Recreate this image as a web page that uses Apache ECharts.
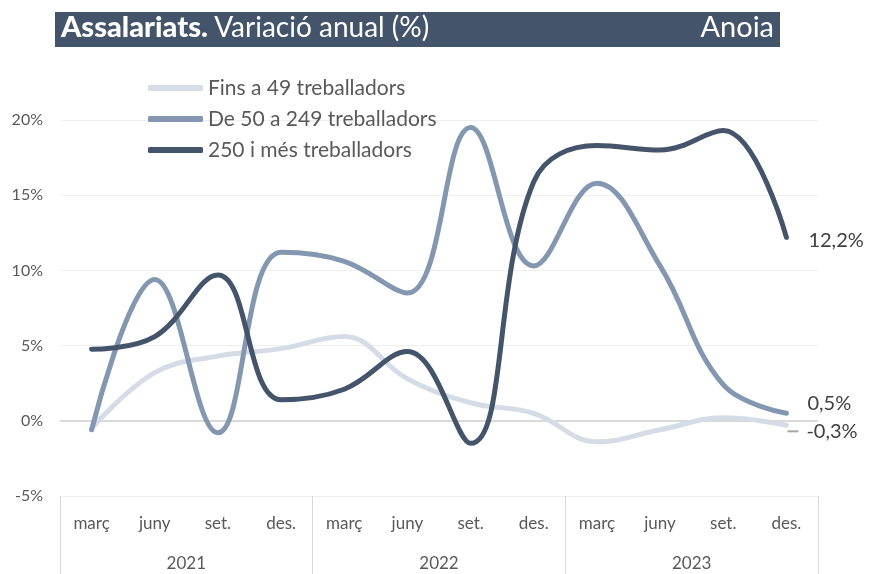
<!DOCTYPE html>
<html>
<head>
<meta charset="utf-8">
<script src="https://cdn.jsdelivr.net/npm/echarts@6/dist/echarts.min.js"></script>
<style>
  html, body { margin: 0; padding: 0; background: #fff; }
  #chart { width: 869px; height: 574px; }
</style>
</head>
<body>
<div id="chart"></div>
<script>
// dades llegides del gràfic
var quarters = ['març', 'juny', 'set.', 'des.', 'març', 'juny', 'set.', 'des.', 'març', 'juny', 'set.', 'des.'];
var years = ['2021', '2022', '2023'];
var yTicks = [-5, 0, 5, 10, 15, 20];

var fins49 = [-0.5, 3.2, 4.3, 4.8, 5.6, 2.8, 1.2, 0.5, -1.4, -0.6, 0.2, -0.3];
var de50a249 = [-0.6, 9.4, -0.8, 11.2, 10.6, 8.5, 19.5, 10.3, 15.8, 10.3, 2.4, 0.5];
var mes250 = [4.75, 5.6, 9.7, 1.4, 2.1, 4.6, -1.5, 15.9, 18.3, 18.0, 19.3, 12.2];

var names = ['Fins a 49 treballadors', 'De 50 a 249 treballadors', '250 i més treballadors'];
var colors = ['#d6dce5', '#8497b0', '#44546a'];

var fontFam = 'Lato, "Open Sans", sans-serif';

function pct(v) {
    return v.toFixed(1).replace('.', ',') + '%';
}

function makeSeries(i, data, endOpt) {
    return {
        name: names[i],
        type: 'line',
        xAxisIndex: 0,
        data: data,
        smooth: 0.4,
        symbol: 'none',
        lineStyle: { width: 5, color: colors[i], cap: 'round' },
        itemStyle: { color: colors[i] },
        endLabel: endOpt,
        z: 2 + i
    };
}

var chart = echarts.init(document.getElementById('chart'));

var option = {
    animation: false,
    textStyle: { fontFamily: fontFam },
    grid: { left: 60, right: 51, top: 120, bottom: 78, containLabel: false },
    graphic: [
        { type: 'rect', left: 55, top: 12, shape: { width: 725, height: 35 }, style: { fill: '#44546a' } },
        {
            type: 'text', left: 61, top: 13,
            style: {
                text: '{b|Assalariats.} {n|Variació anual (%)}',
                rich: {
                    b: { fontFamily: fontFam, fontWeight: 900, fontSize: 29, fill: '#fff' },
                    n: { fontFamily: fontFam, fontSize: 28, fill: '#fff', padding: [0, 0, 0, 3] }
                }
            }
        },
        {
            type: 'text', right: 95, top: 13,
            style: { text: 'Anoia', fontFamily: fontFam, fontSize: 29, fill: '#fff' }
        }
    ],
    legend: {
        orient: 'vertical',
        left: 148, top: 77,
        padding: 0,
        icon: 'roundRect',
        itemWidth: 55, itemHeight: 6,
        itemGap: 9,
        data: names,
        textStyle: { fontFamily: fontFam, fontSize: 21, color: '#595959', lineHeight: 22 }
    },
    xAxis: [
        {
            type: 'category',
            data: quarters,
            boundaryGap: true,
            axisLine: { show: false },
            axisTick: { show: false },
            axisLabel: { margin: 19, fontSize: 17, color: '#595959', interval: 0 }
        },
        {
            type: 'category',
            data: years,
            position: 'bottom',
            boundaryGap: true,
            axisLine: { show: false },
            axisTick: { show: true, length: 78, lineStyle: { color: '#d9d9d9', width: 1 } },
            axisLabel: { margin: 59, fontSize: 17, color: '#595959' }
        }
    ],
    yAxis: {
        type: 'value',
        min: yTicks[0],
        max: yTicks[yTicks.length - 1],
        interval: 5,
        axisLine: { show: false },
        axisTick: { show: false },
        axisLabel: { margin: 17, fontSize: 16, color: '#595959', formatter: '{value}%' },
        splitLine: { lineStyle: { color: '#efefef', width: 1 } }
    },
    series: [
        makeSeries(0, fins49, {
            show: true, distance: 1, offset: [0, 6],
            formatter: function (p) { return '{l|}{v|' + pct(p.value) + '}'; },
            rich: {
                l: { width: 11, height: 2, backgroundColor: '#a6a6a6' },
                v: { fontFamily: fontFam, fontSize: 20, color: '#404040', padding: [0, 0, 0, 8] }
            }
        }),
        makeSeries(1, de50a249, {
            show: true, distance: 21, offset: [0, -10],
            formatter: function (p) { return pct(p.value); },
            fontFamily: fontFam, fontSize: 20, color: '#404040'
        }),
        makeSeries(2, mes250, {
            show: true, distance: 22, offset: [0, 3],
            formatter: function (p) { return pct(p.value); },
            fontFamily: fontFam, fontSize: 20, color: '#404040'
        })
    ]
};

// línia del 0%
option.series[0].markLine = {
    silent: true,
    symbol: 'none',
    label: { show: false },
    lineStyle: { color: '#d9d9d9', width: 2, type: 'solid' },
    data: [{ yAxis: 0 }],
    z: 1
};

chart.setOption(option);
</script>
</body>
</html>
